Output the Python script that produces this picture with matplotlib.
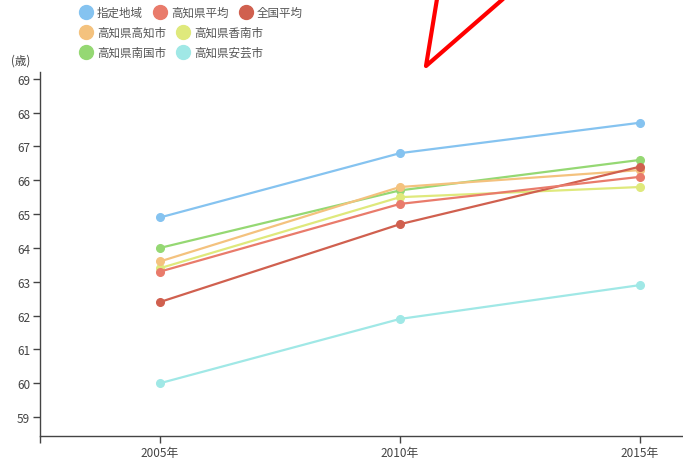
import matplotlib
matplotlib.use("Agg")
import matplotlib.pyplot as plt
from matplotlib.lines import Line2D

plt.rcParams['font.family'] = ['Noto Sans CJK JP', 'DejaVu Sans']

# data
years = ['2005年', '2010年', '2015年']
names = ['指定地域', '高知県平均', '全国平均', '高知県高知市', '高知県香南市', '高知県南国市', '高知県安芸市']
shitei = [64.9, 66.8, 67.7]
kochi_ken = [63.3, 65.3, 66.1]
zenkoku = [62.4, 64.7, 66.4]
kochi_shi = [63.6, 65.8, 66.3]
konan = [63.4, 65.5, 65.8]
nankoku = [64.0, 65.7, 66.6]
aki = [60.0, 61.9, 62.9]
series = [shitei, kochi_ken, zenkoku, kochi_shi, konan, nankoku, aki]
colors = ['#85c3f0', '#e97b6b', '#d0604f', '#f4c27e', '#dfe97c', '#95d873', '#a0e8e6']
yticks = list(range(59, 70))

fig = plt.figure(figsize=(6.83, 4.6), dpi=100)
ax = fig.add_axes([40 / 683, 23 / 460, 643 / 683, 364 / 460])

x = list(range(len(years)))
# draw in reverse so 指定地域 sits on top
for vals, c in list(zip(series, colors))[::-1]:
    ax.plot(x, vals, color=c, lw=1.6, marker='o', ms=5.5, mec=c, mfc=c, zorder=3)

ax.set_xlim(-0.5, 2.18)
ax.set_ylim(58.44, 69.2)
ax.set_xticks(x)
ax.set_xticklabels(years)
ax.set_xticks([-0.5], minor=True)
ax.set_yticks(yticks)
for s in ['top', 'right']:
    ax.spines[s].set_visible(False)
for s in ['left', 'bottom']:
    ax.spines[s].set_color('#444444')
    ax.spines[s].set_linewidth(1.0)
ax.tick_params(axis='both', which='both', direction='out', length=5, width=1,
               color='#444444', labelsize=8.5, labelcolor='#444444', pad=2)
ax.tick_params(axis='x', pad=2)

# legend drawn manually (irregular layout)
leg_pos = [(86, 13), (160, 13), (246, 13), (86, 33), (183, 33), (86, 53), (183, 53)]
for (px, py), name, c in zip(leg_pos, names, colors):
    fig.add_artist(Line2D([px / 683], [1 - py / 460], marker='o', ms=10,
                          color=c, mec=c, transform=fig.transFigure))
    fig.text((px + 11) / 683, 1 - py / 460, name, fontsize=8.3, color='#555555',
             va='center', ha='left')

fig.text(11 / 683, 1 - 61 / 460, '(歳)', fontsize=8.3, color='#444444', va='center')

# red hand-drawn mark at top
fig.add_artist(Line2D([437 / 683, 426 / 683, 503 / 683], [1.0, 1 - 67 / 460, 1.0],
                      color='#ff0000', lw=3, solid_joinstyle='round',
                      solid_capstyle='round', transform=fig.transFigure))

fig.savefig('out.png', dpi=100, facecolor='white')
